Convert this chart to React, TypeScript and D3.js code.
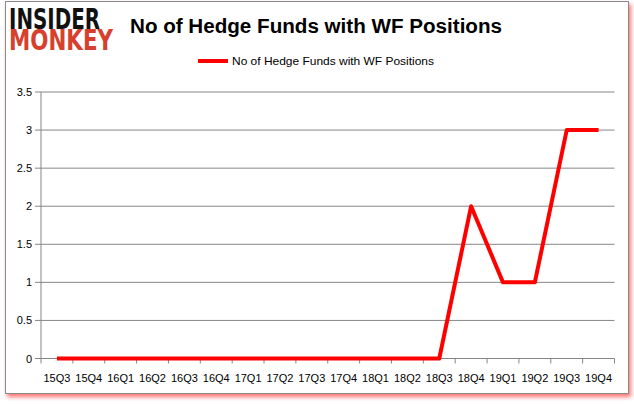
import React from "react";
import * as d3 from "d3";

const categories = ["15Q3","15Q4","16Q1","16Q2","16Q3","16Q4","17Q1","17Q2","17Q3","17Q4","18Q1","18Q2","18Q3","18Q4","19Q1","19Q2","19Q3","19Q4"];
const values = [0,0,0,0,0,0,0,0,0,0,0,0,0,2,1,1,3,3];
const yTicks = [0,0.5,1,1.5,2,2.5,3,3.5];
const title = "No of Hedge Funds with WF Positions";
const seriesName = "No of Hedge Funds with WF Positions";

export default function App() {
  const W = 634, H = 404;
  const left = 41, right = 614.5, top = 92, bottom = 358.5;
  const x = d3.scaleBand<string>().domain(categories).range([left, right]);
  const y = d3.scaleLinear().domain([0, 3.5]).range([bottom, top]);
  const line = d3.line<number>()
    .x((_, i) => (x(categories[i]) as number) + x.bandwidth() / 2)
    .y(d => y(d));
  const font = "'Liberation Sans', Arial, sans-serif";
  const tickEdges = categories.map(c => x(c) as number).concat([right]);
  return (
    <svg width={W} height={H} style={{ position: "absolute", left: 0, top: 0, background: "#fff" }}>
      <defs>
        <filter id="sh" x="-5%" y="-5%" width="110%" height="110%">
          <feGaussianBlur in="SourceAlpha" stdDeviation="2" />
          <feOffset dx="2" dy="3" result="b" />
          <feFlood floodColor="#ff0000" floodOpacity="0.55" />
          <feComposite in2="b" operator="in" />
          <feMerge>
            <feMergeNode />
            <feMergeNode in="SourceGraphic" />
          </feMerge>
        </filter>
      </defs>
      <rect x={5.5} y={1.5} width={623} height={392} fill="#fff" stroke="#8a8a8a" strokeWidth={1} filter="url(#sh)" />
      {/* logo */}
      <g transform="translate(9,28.5) scale(1,1.2)">
        <text x={0} y={0} fontFamily="'DejaVu Sans', sans-serif" fontWeight={900} fontSize={23} fill="#111" textLength={91} lengthAdjust="spacingAndGlyphs">INSIDER</text>
      </g>
      <g transform="translate(9,50) scale(1,1.2)">
        <text x={0} y={0} fontFamily="'DejaVu Sans', sans-serif" fontWeight={900} fontSize={23} fill="#d6402c" textLength={104} lengthAdjust="spacingAndGlyphs">MONKEY</text>
      </g>
      {/* title */}
      <text x={316} y={33} textAnchor="middle" fontFamily={font} fontWeight="bold" fontSize={20} fill="#000" textLength={372} lengthAdjust="spacingAndGlyphs">{title}</text>
      {/* legend */}
      <line x1={198} x2={228} y1={61} y2={61} stroke="#ff0000" strokeWidth={4} />
      <text x={232} y={65} fontFamily={font} fontSize={11.5} fill="#000" textLength={202} lengthAdjust="spacingAndGlyphs">{seriesName}</text>
      {/* gridlines */}
      {yTicks.map(t => (
        <g key={t}>
          <line x1={left - 6} x2={right} y1={y(t)} y2={y(t)} stroke="#868686" strokeWidth={1} />
          <text x={32} y={y(t) + 4} textAnchor="end" fontFamily={font} fontSize={11} fill="#000">{t}</text>
        </g>
      ))}
      <line x1={left} x2={left} y1={top} y2={bottom} stroke="#868686" strokeWidth={1} />
      {tickEdges.map((e, i) => (
        <line key={i} x1={e} x2={e} y1={bottom} y2={bottom + 5} stroke="#868686" strokeWidth={1} />
      ))}
      {categories.map(c => (
        <text key={c} x={(x(c) as number) + x.bandwidth() / 2} y={382} textAnchor="middle" fontFamily={font} fontSize={11} fill="#000">{c}</text>
      ))}
      <path d={line(values) || ""} fill="none" stroke="#ff0000" strokeWidth={4} strokeLinejoin="round" />
    </svg>
  );
}
